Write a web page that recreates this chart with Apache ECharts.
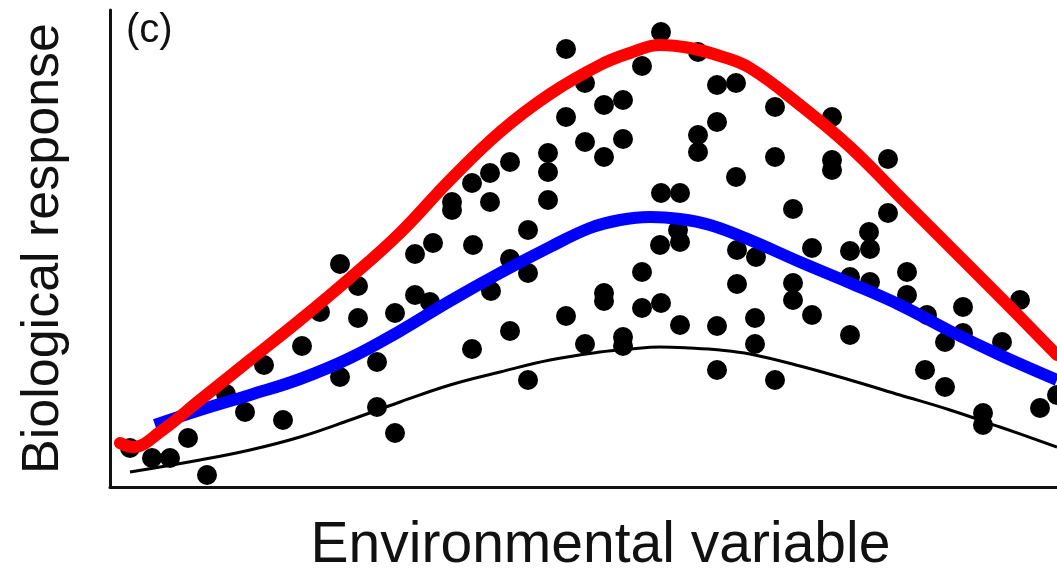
<!DOCTYPE html>
<html>
<head>
<meta charset="utf-8">
<script src="https://cdn.jsdelivr.net/npm/echarts@6/dist/echarts.min.js"></script>
<style>
  html, body { margin: 0; padding: 0; background: #fff; }
  #chart { width: 1057px; height: 573px; }
</style>
</head>
<body>
<div id="chart"></div>
<script>
// observations (environmental variable, biological response), arbitrary units
const dots = [
  [20, 39], [42, 29], [60, 29], [78, 49], [97, 12], [116, 93], [135, 75], [154, 122],
  [173, 67], [192, 141], [210, 175], [230, 223], [230, 110], [248, 201], [248, 169],
  [267, 125], [267, 80], [285, 174], [285, 54], [305, 233], [305, 192], [323, 244],
  [320, 185], [342, 285], [342, 277], [362, 304], [380, 314], [380, 285], [400, 325],
  [418, 257], [438, 334], [438, 315], [438, 287], [363, 242], [400, 228], [418, 214],
  [381, 196], [400, 156], [362, 138], [418, 107], [456, 171], [475, 143], [494, 194],
  [494, 186], [513, 150], [513, 141], [532, 215], [532, 179], [551, 184], [570, 162],
  [607, 161], [607, 117], [456, 438], [475, 404], [532, 421], [551, 455], [588, 435],
  [494, 382], [513, 387], [456, 370], [475, 345], [494, 330], [513, 348], [607, 402],
  [626, 404], [607, 365], [588, 352], [588, 335], [626, 310], [551, 294], [570, 294],
  [550, 242], [570, 245], [568, 257], [627, 237], [646, 230], [627, 203], [645, 169],
  [645, 143], [665, 380], [665, 330], [722, 370], [722, 327], [722, 317], [778, 328],
  [683, 278], [778, 274], [759, 255], [702, 239], [740, 236], [760, 238], [683, 204],
  [683, 187], [702, 172], [740, 152], [740, 210], [760, 205], [797, 215], [797, 192],
  [817, 172], [853, 180], [835, 145], [853, 154], [892, 145], [910, 187], [815, 117],
  [835, 100], [873, 74], [873, 62], [930, 79], [947, 92], [665, 107]
];

// upper fitted curve (red)
const redCurve = [
  [10, 44], [23, 40], [50, 55], [90, 87], [140, 127], [190, 167], [240, 209],
  [290, 254], [340, 307], [390, 355], [440, 393], [490, 422], [520, 434], [550, 442],
  [580, 439], [610, 431], [640, 419], [690, 382], [740, 340], [790, 290], [840, 240],
  [890, 190], [947, 132]
];

// middle fitted curve (blue)
const blueCurve = [
  [45, 62], [90, 77], [140, 92], [190, 108], [240, 129], [290, 156], [340, 186],
  [390, 214], [440, 240], [480, 259], [510, 267], [540, 270], [570, 268], [600, 262],
  [640, 247], [690, 225], [740, 204], [790, 182], [840, 156], [890, 132], [947, 107]
];

// lower fitted curve (black)
const blackCurve = [
  [20, 15], [90, 27], [140, 37], [190, 50], [240, 67], [290, 85], [340, 102],
  [390, 115], [440, 127], [490, 135], [520, 138], [550, 140], [580, 139], [610, 137],
  [640, 133], [690, 121], [740, 107], [790, 92], [840, 77], [890, 60], [947, 40]
];

const xLabel = 'Environmental variable';
const yLabel = 'Biological response';
const panelTag = '(c)';

const chart = echarts.init(document.getElementById('chart'));
const font = '"Liberation Sans", Arial, sans-serif';

chart.setOption({
  backgroundColor: '#fff',
  animation: false,
  title: {
    text: panelTag,
    left: 126,
    top: 11,
    padding: 0,
    textStyle: { fontFamily: font, fontSize: 40, fontWeight: 'normal', color: '#111' }
  },
  grid: { left: 110, right: 0, top: 10, bottom: 86, outerBoundsMode: 'none' },
  xAxis: {
    type: 'value',
    min: 0,
    max: 947,
    name: xLabel,
    nameLocation: 'middle',
    nameGap: 31,
    nameTextStyle: { fontFamily: font, fontSize: 57, color: '#111', padding: [0, 0, 0, 34] },
    axisLine: { lineStyle: { color: '#111', width: 3 } },
    axisTick: { show: false },
    axisLabel: { show: false },
    splitLine: { show: false }
  },
  yAxis: {
    type: 'value',
    min: 0,
    max: 477,
    name: yLabel,
    nameLocation: 'middle',
    nameGap: 40,
    nameTextStyle: { fontFamily: font, fontSize: 52, color: '#111' },
    axisLine: { lineStyle: { color: '#111', width: 3 } },
    axisTick: { show: false },
    axisLabel: { show: false },
    splitLine: { show: false }
  },
  series: [
    {
      type: 'scatter',
      data: dots,
      symbol: 'circle',
      symbolSize: 20,
      itemStyle: { color: '#000', opacity: 1 }
    },
    {
      type: 'line',
      data: blackCurve,
      smooth: 0.4,
      showSymbol: false,
      lineStyle: { color: '#000', width: 3 }
    },
    {
      type: 'line',
      data: blueCurve,
      smooth: 0.4,
      showSymbol: false,
      lineStyle: { color: '#0000ff', width: 12 }
    },
    {
      type: 'line',
      data: redCurve,
      smooth: 0.4,
      showSymbol: false,
      lineStyle: { color: '#ff0000', width: 12, cap: 'round' }
    }
  ]
});
</script>
</body>
</html>
